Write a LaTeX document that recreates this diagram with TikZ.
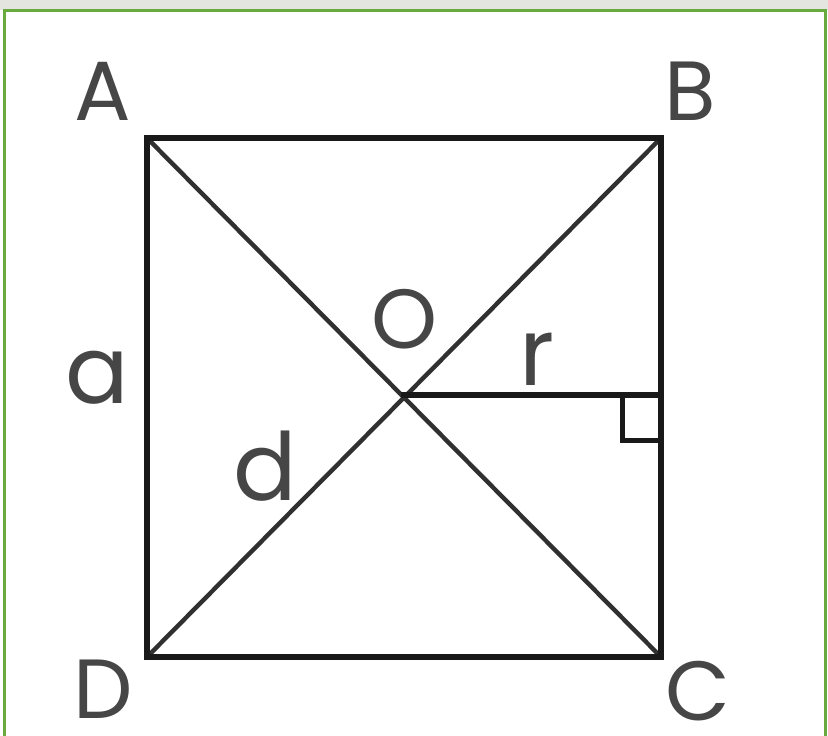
\documentclass[tikz,border=0pt]{standalone}
\usepackage{fontspec}
\setmainfont{Poppins}
\definecolor{frame}{RGB}{104,170,62}
\definecolor{band}{RGB}{228,228,224}
\definecolor{ink}{RGB}{25,25,25}
\definecolor{lab}{RGB}{70,70,70}
\begin{document}
\begin{tikzpicture}[x=1pt,y=-1pt,
  side/.style={draw=ink,line width=6pt,line cap=rect},
  diag/.style={draw=ink!90,line width=4.4pt},
  lbl/.style={text=lab,font=\fontsize{84}{84}\selectfont,inner sep=0pt,anchor=base},
  small/.style={text=lab,font=\fontsize{94}{94}\selectfont,inner sep=0pt,anchor=base}]
\useasboundingbox (0,0) rectangle (828,736);
\fill[band] (0,0) rectangle (828,10);
\fill[white] (4,10) rectangle (825,736);
\draw[frame,line width=3pt] (4,737) -- (4,10) -- (825,10) -- (825,737);
\coordinate (A) at (147,138);
\coordinate (B) at (661,138);
\coordinate (C) at (661,657);
\coordinate (D) at (147,657);
\coordinate (O) at (404,395);
\coordinate (H) at (661,395);
\draw[diag] (A) -- (C);
\draw[diag] (B) -- (D);
\draw[side] (O) -- (H);
\draw[side] (A) -- (B) -- (C) -- (D) -- cycle;
\coordinate (R1) at (622,395);
\coordinate (R2) at (622,440);
\coordinate (R3) at (661,440);
\draw[draw=ink,line width=5pt] (R1) -- (R2) -- (R3);
\node[lbl] (lA) at (103,120) {A};
\node[lbl] (lB) at (690,120) {B};
\node[lbl] (lD) at (103,718) {D};
\node[lbl] (lC) at (698,720) {C};
\node[lbl] (lO) at (405,348) {O};
\node[small] (la) at (97,403) {a};
\node[small] (lr) at (537,385) {r};
\node[small] (ld) at (265,500) {d};
\end{tikzpicture}
\end{document}
